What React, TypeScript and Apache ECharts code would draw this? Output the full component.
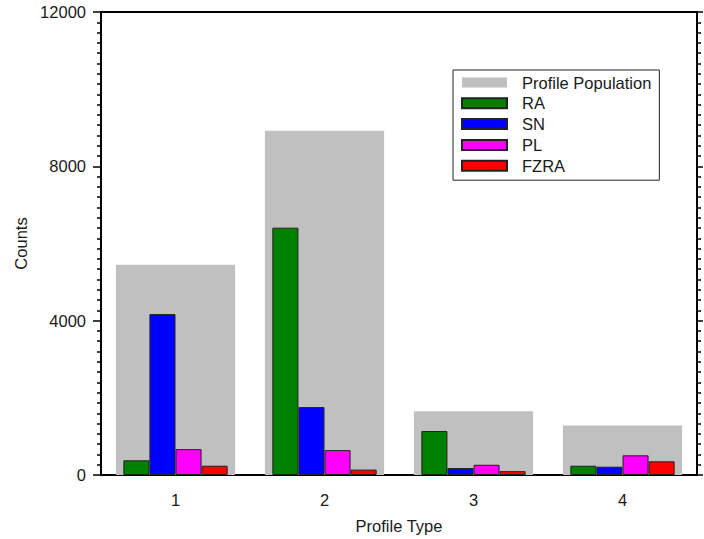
import React, { useEffect, useRef } from "react";
import * as echarts from "echarts";

const categories = ["1", "2", "3", "4"];
const population = [5450, 8920, 1655, 1285];
const ra = [380, 6410, 1140, 240];
const sn = [4170, 1760, 180, 215];
const pl = [670, 645, 265, 510];
const fzra = [240, 140, 100, 355];
const yTicks = [0, 4000, 8000, 12000];

const FONT = "'Liberation Sans', Arial, sans-serif";
const TXT = "#1a1a1a";
const FS = 16.5;

export default function App() {
  const ref = useRef<HTMLDivElement>(null);
  useEffect(() => {
    if (!ref.current) return;
    const chart = echarts.init(ref.current, null, { renderer: "svg" });
    const edge = { borderColor: "#222", borderWidth: 1 };
    const tickStyle = { color: "#000", width: 1.5 };
    chart.setOption({
      animation: false,
      backgroundColor: "#fff",
      textStyle: { fontFamily: FONT },
      grid: { left: 101, right: 7, top: 12, bottom: 63, show: false },
      legend: {
        orient: "vertical",
        left: 453,
        top: 70,
        padding: [4, 8, 6, 8],
        width: 190,
        borderColor: "#222",
        borderWidth: 1,
        itemWidth: 45,
        itemHeight: 10,
        itemGap: 3.8,
        icon: "rect",
        textStyle: { fontSize: FS, color: TXT, fontFamily: FONT, lineHeight: 17, padding: [0, 0, 0, 10] },
        data: ["Profile Population", "RA", "SN", "PL", "FZRA"],
      },
      xAxis: [
        {
          type: "category",
          data: categories,
          position: "bottom",
          name: "Profile Type",
          nameLocation: "middle",
          nameGap: 42,
          nameTextStyle: { fontSize: FS, color: TXT, fontFamily: FONT },
          axisLine: { onZero: false, lineStyle: { color: "#000", width: 2 } },
          axisTick: { alignWithLabel: true, length: 8, lineStyle: tickStyle },
          axisLabel: { fontSize: FS, color: TXT, margin: 16, fontFamily: FONT },
          splitLine: { show: false },
        },
        {
          type: "category",
          data: categories,
          position: "top",
          axisLine: { onZero: false, lineStyle: { color: "#000", width: 2 } },
          axisTick: { alignWithLabel: true, length: 8, lineStyle: tickStyle },
          axisLabel: { show: false },
          splitLine: { show: false },
        },
      ],
      yAxis: [
        {
          type: "value",
          min: 0,
          max: 12000,
          interval: 4000,
          position: "left",
          name: "Counts",
          nameLocation: "middle",
          nameGap: 61,
          nameTextStyle: { fontSize: FS, color: TXT, fontFamily: FONT },
          axisLine: { show: true, onZero: false, lineStyle: { color: "#000", width: 2 } },
          axisTick: { show: true, length: 8, lineStyle: tickStyle },
          minorTick: { show: true, splitNumber: 15, length: 4, lineStyle: tickStyle },
          axisLabel: {
            fontSize: FS,
            color: TXT,
            margin: 15,
            fontFamily: FONT,
            formatter: (v: number) => (yTicks.includes(v) ? String(v) : ""),
          },
          splitLine: { show: false },
        },
        {
          type: "value",
          min: 0,
          max: 12000,
          interval: 4000,
          position: "right",
          axisLine: { show: true, onZero: false, lineStyle: { color: "#000", width: 2 } },
          axisTick: { show: true, length: 6, lineStyle: tickStyle },
          minorTick: { show: true, splitNumber: 15, length: 4, lineStyle: tickStyle },
          axisLabel: { show: false },
          splitLine: { show: false },
        },
      ],
      series: [
        {
          name: "Profile Population",
          type: "bar",
          xAxisIndex: 0,
          yAxisIndex: 0,
          barWidth: "80%",
          itemStyle: { color: "#c0c0c0" },
          data: population,
          z: 1,
        },
        {
          name: "RA",
          type: "bar",
          xAxisIndex: 1,
          yAxisIndex: 0,
          barGap: "0%",
          barCategoryGap: "30%",
          itemStyle: { color: "#008000", ...edge },
          data: ra,
          z: 2,
        },
        {
          name: "SN",
          type: "bar",
          xAxisIndex: 1,
          yAxisIndex: 0,
          barGap: "0%",
          barCategoryGap: "30%",
          itemStyle: { color: "#0000ff", ...edge },
          data: sn,
          z: 2,
        },
        {
          name: "PL",
          type: "bar",
          xAxisIndex: 1,
          yAxisIndex: 0,
          barGap: "0%",
          barCategoryGap: "30%",
          itemStyle: { color: "#ff00ff", ...edge },
          data: pl,
          z: 2,
        },
        {
          name: "FZRA",
          type: "bar",
          xAxisIndex: 1,
          yAxisIndex: 0,
          barGap: "0%",
          barCategoryGap: "30%",
          itemStyle: { color: "#ff0000", ...edge },
          data: fzra,
          z: 2,
        },
      ],
    });
    return () => chart.dispose();
  }, []);
  return <div ref={ref} style={{ width: 704, height: 539, position: "absolute", left: 0, top: 0 }} />;
}
